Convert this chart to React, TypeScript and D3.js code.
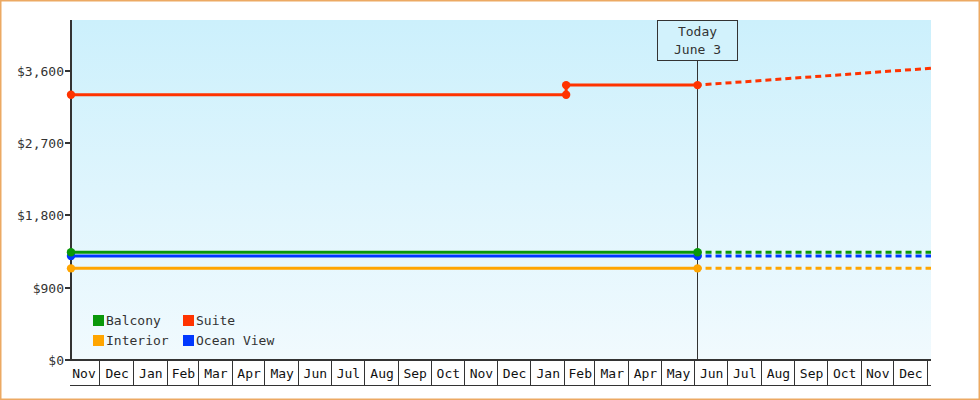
import { useEffect, useRef } from 'react'
import * as d3 from 'd3'

interface Pt { date: Date; price: number }

const W = 980
const H = 400
const PLOT = { l: 71, r: 931, t: 20, b: 360 }
const AXIS_BAND = 25
const INK = '#333'
const FONT = '"DejaVu Sans Mono", "Liberation Mono", monospace'

const d = (s: string) => new Date(s + 'T00:00:00')

// x domain runs a few days either side of the month grid
const X_DOMAIN = [d('2023-11-04'), d('2026-01-04')]
const Y_MAX = 4230
const Y_TICKS = [0, 900, 1800, 2700, 3600]
const TODAY = d('2025-06-03')
const TODAY_LABEL = ['Today', 'June 3']

const seriesNames = ['Interior', 'Ocean View', 'Balcony', 'Suite']
const seriesColors = ['#ffa500', '#0038ff', '#0a980a', '#ff3300']

const interiorActual: Pt[] = [{ date: d('2023-11-04'), price: 1140 }, { date: d('2025-06-03'), price: 1140 }]
const interiorForecast: Pt[] = [{ date: d('2025-06-03'), price: 1140 }, { date: d('2026-01-04'), price: 1140 }]
const oceanActual: Pt[] = [{ date: d('2023-11-04'), price: 1295 }, { date: d('2025-06-03'), price: 1295 }]
const oceanForecast: Pt[] = [{ date: d('2025-06-03'), price: 1295 }, { date: d('2026-01-04'), price: 1295 }]
const balconyActual: Pt[] = [{ date: d('2023-11-04'), price: 1340 }, { date: d('2025-06-03'), price: 1340 }]
const balconyForecast: Pt[] = [{ date: d('2025-06-03'), price: 1340 }, { date: d('2026-01-04'), price: 1340 }]
const suiteActual: Pt[] = [
  { date: d('2023-11-04'), price: 3300 },
  { date: d('2025-02-02'), price: 3300 },
  { date: d('2025-02-02'), price: 3420 },
  { date: d('2025-06-03'), price: 3420 },
]
const suiteForecast: Pt[] = [{ date: d('2025-06-03'), price: 3420 }, { date: d('2026-01-04'), price: 3630 }]

const actuals = [interiorActual, oceanActual, balconyActual, suiteActual]
const forecasts = [interiorForecast, oceanForecast, balconyForecast, suiteForecast]

// legend grid order: Balcony, Suite / Interior, Ocean View
const legendOrder = ['Balcony', 'Suite', 'Interior', 'Ocean View']

export default function App() {
  const svgRef = useRef<SVGSVGElement>(null)

  useEffect(() => {
    const svg = d3.select(svgRef.current)
    svg.selectAll('*').remove()

    const x = d3.scaleTime().domain(X_DOMAIN).range([PLOT.l, PLOT.r])
    const y = d3.scaleLinear().domain([0, Y_MAX]).range([PLOT.b, PLOT.t])

    svg.append('rect').attr('width', W).attr('height', H).attr('fill', '#fff')

    const grad = svg.append('defs').append('linearGradient').attr('id', 'bg').attr('x1', 0).attr('x2', 0).attr('y1', 0).attr('y2', 1)
    grad.append('stop').attr('offset', '0%').attr('stop-color', '#ccf0fc')
    grad.append('stop').attr('offset', '100%').attr('stop-color', '#f1fafe')
    svg.append('rect').attr('x', PLOT.l).attr('y', PLOT.t).attr('width', PLOT.r - PLOT.l).attr('height', PLOT.b - PLOT.t).attr('fill', 'url(#bg)')

    // month band under the plot
    const months = d3.timeMonth.range(d3.timeMonth.floor(X_DOMAIN[0]), X_DOMAIN[1])
    const fmtMonth = d3.timeFormat('%b')
    months.forEach((m) => {
      const next = d3.timeMonth.offset(m, 1)
      const x0 = Math.max(PLOT.l, x(m))
      const x1 = Math.min(PLOT.r, x(next))
      if (x1 - x0 < 10) return
      svg.append('text').attr('x', (x(m) + x(next)) / 2).attr('y', PLOT.b + 18).attr('text-anchor', 'middle')
        .attr('font-family', FONT).attr('font-size', 13).attr('fill', '#111').text(fmtMonth(m))
      const xd = Math.round(x(next)) - 0.5
      if (xd <= PLOT.r) {
        svg.append('line').attr('x1', xd).attr('x2', xd).attr('y1', PLOT.b).attr('y2', PLOT.b + AXIS_BAND).attr('stroke', INK).attr('stroke-width', 1)
      }
    })
    svg.append('line').attr('x1', PLOT.l - 1).attr('x2', PLOT.r).attr('y1', PLOT.b + AXIS_BAND + 0.5).attr('y2', PLOT.b + AXIS_BAND + 0.5).attr('stroke', INK)

    // y axis
    Y_TICKS.forEach((t) => {
      const yy = Math.round(y(t))
      svg.append('line').attr('x1', PLOT.l - 6).attr('x2', PLOT.l).attr('y1', yy).attr('y2', yy).attr('stroke', INK).attr('stroke-width', 2)
      svg.append('text').attr('x', PLOT.l - 7).attr('y', yy + 4.5).attr('text-anchor', 'end')
        .attr('font-family', FONT).attr('font-size', 13).attr('fill', '#333').text('$' + d3.format(',')(t))
    })
    svg.append('line').attr('x1', PLOT.l).attr('x2', PLOT.l).attr('y1', PLOT.t).attr('y2', PLOT.b + 1).attr('stroke', INK).attr('stroke-width', 2)
    svg.append('line').attr('x1', PLOT.l - 1).attr('x2', PLOT.r).attr('y1', PLOT.b).attr('y2', PLOT.b).attr('stroke', INK).attr('stroke-width', 2)

    // today marker
    const tx = Math.round(x(TODAY)) - 0.5
    svg.append('line').attr('x1', tx).attr('x2', tx).attr('y1', 61).attr('y2', PLOT.b).attr('stroke', INK).attr('stroke-width', 1)
    svg.append('rect').attr('x', tx - 40).attr('y', 20.5).attr('width', 80).attr('height', 40).attr('fill', '#d2f2fc').attr('stroke', INK)
    TODAY_LABEL.forEach((s, i) => {
      svg.append('text').attr('x', tx).attr('y', 36 + i * 18).attr('text-anchor', 'middle')
        .attr('font-family', FONT).attr('font-size', 13).attr('fill', '#333').text(s)
    })

    const line = d3.line<Pt>().x((p) => x(p.date)).y((p) => y(p.price))

    forecasts.forEach((pts, i) => {
      svg.append('path').datum(pts).attr('d', line).attr('fill', 'none').attr('stroke', seriesColors[i])
        .attr('stroke-width', 3).attr('stroke-dasharray', '6,4').attr('stroke-dashoffset', -8)
    })
    actuals.forEach((pts, i) => {
      svg.append('path').datum(pts).attr('d', line).attr('fill', 'none').attr('stroke', seriesColors[i]).attr('stroke-width', 3)
    })
    actuals.forEach((pts, i) => {
      svg.selectAll(null).data(pts).enter().append('circle')
        .attr('cx', (p) => x(p.date)).attr('cy', (p) => y(p.price)).attr('r', 4.2).attr('fill', seriesColors[i])
    })

    // legend
    legendOrder.forEach((name, i) => {
      const col = i % 2
      const row = Math.floor(i / 2)
      const lx = 93 + col * 90
      const ly = 315 + row * 20
      svg.append('rect').attr('x', lx).attr('y', ly).attr('width', 11).attr('height', 11).attr('fill', seriesColors[seriesNames.indexOf(name)])
      svg.append('text').attr('x', lx + 13).attr('y', ly + 10).attr('font-family', FONT).attr('font-size', 13).attr('fill', '#333').text(name)
    })

    svg.append('rect').attr('x', 0.75).attr('y', 0.75).attr('width', W - 1.5).attr('height', H - 1.5).attr('fill', 'none').attr('stroke', '#eca963').attr('stroke-width', 1.5)
  }, [])

  return (
    <div style={{ position: 'fixed', left: 0, top: 0 }}>
      <svg ref={svgRef} width={W} height={H} style={{ display: 'block' }} />
    </div>
  )
}
